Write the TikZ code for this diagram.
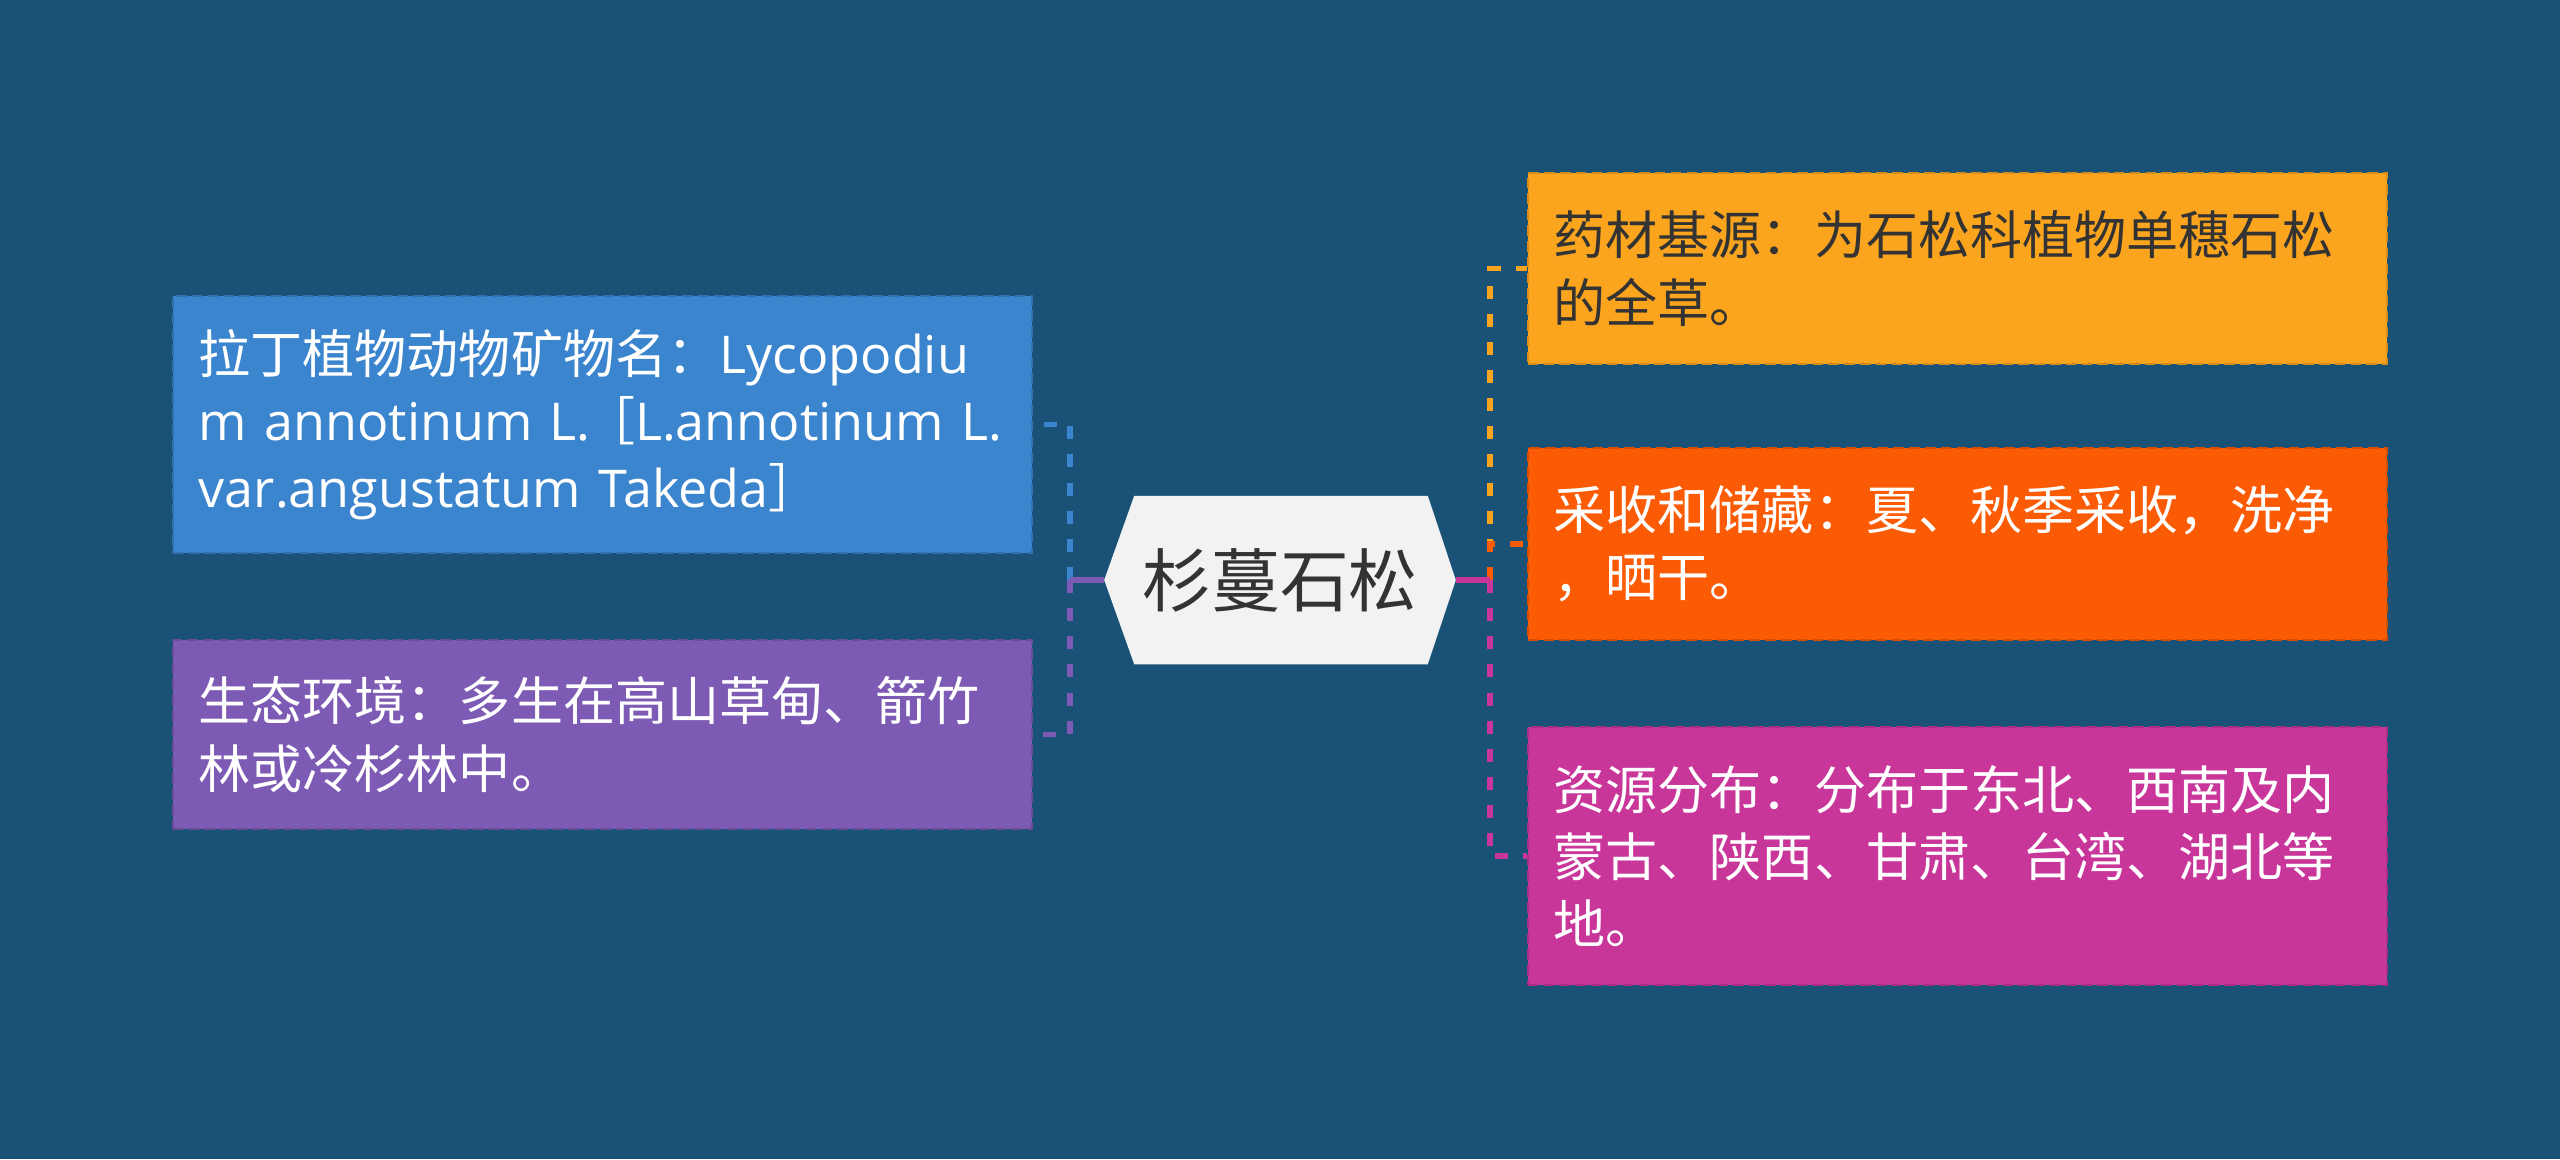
\documentclass[tikz,border=0pt]{standalone}
\usepackage{fontspec}
\setmainfont{Noto Sans CJK SC}
\newfontfamily\latinfont{Open Sans}
\newcommand{\lat}[1]{{\latinfont #1}}
\definecolor{bg}{HTML}{1A5277}
\definecolor{cblue}{HTML}{3A85CE}
\definecolor{cpurple}{HTML}{7D5BB4}
\definecolor{cyellow}{HTML}{FBA51E}
\definecolor{corange}{HTML}{FC5B05}
\definecolor{cmagenta}{HTML}{C8369A}
\definecolor{hexfill}{HTML}{F2F2F2}
\definecolor{darktext}{HTML}{333333}
\tikzset{
  leaf/.style={rectangle, draw=#1!85!black, fill=#1, line width=0.6pt,
    dash pattern=on 3pt off 1.5pt, minimum width=8.59cm,
    text width=8.07cm, inner xsep=0.26cm, align=left, text=white,
    font=\fontsize{14.8}{19.1}\selectfont},
  link/.style={draw=#1, line width=1.45pt, dash pattern=on 3.7pt off 4.3pt},
  stem/.style={draw=#1, line width=1.45pt}
}
\begin{document}
\begin{tikzpicture}[x=0.01cm,y=-0.01cm]
\fill[bg] (0,0) rectangle (2560,1159);
\useasboundingbox (0,0) rectangle (2560,1159);

% root
\node[minimum width=3.5cm, minimum height=1.67cm, inner sep=0pt] (root) at (1280,580) {};
\fill[hexfill] (root.west) -- ([xshift=0.3cm]root.north west) -- ([xshift=-0.28cm]root.north east)
  -- (root.east) -- ([xshift=-0.28cm]root.south east) -- ([xshift=0.3cm]root.south west) -- cycle;
\node[text=darktext, font=\fontsize{19.6}{24}\selectfont] (roottext) at (root.center) {杉蔓石松};

% leaves
\node[leaf=cblue, minimum height=2.57cm] (blue) at (602.5,424.5)
  {\mbox{拉丁植物动物矿物名：\lat{Lycopodiu}}\\\mbox{\lat{m annotinum L.}\kern-0.15em［\lat{L.annotinum L.}}\\\mbox{\lat{var.angustatum Takeda}］}};
\node[leaf=cpurple, minimum height=1.89cm] (purple) at (602.5,734.5)
  {生态环境：多生在高山草甸、箭竹\\林或冷杉林中。};
\node[leaf=cyellow, minimum height=1.91cm, text=darktext] (yellow) at (1957.5,268.5)
  {药材基源：为石松科植物单穗石松\\的全草。};
\node[leaf=corange, minimum height=1.92cm] (orange) at (1957.5,544)
  {采收和储藏：夏、秋季采收，洗净\\，晒干。};
\node[leaf=cmagenta, minimum height=2.58cm] (magenta) at (1957.5,856)
  {资源分布：分布于东北、西南及内\\蒙古、陕西、甘肃、台湾、湖北等\\地。};

% junctions
\coordinate (jl) at (1070,580);
\coordinate (jr) at (1490,580);

% left connectors
\draw[link=cblue] (jl) |- (blue.east);
\draw[link=cpurple] (jl) |- (purple.east);
\draw[stem=cpurple] (root.west) -- (jl);

% right connectors
\draw[link=cyellow] (jr) |- (yellow.west);
\draw[link=corange] (jr) |- (orange.west);
\draw[link=cmagenta] (jr) |- (magenta.west);
\draw[stem=cmagenta] (root.east) -- (jr);
\end{tikzpicture}
\end{document}
